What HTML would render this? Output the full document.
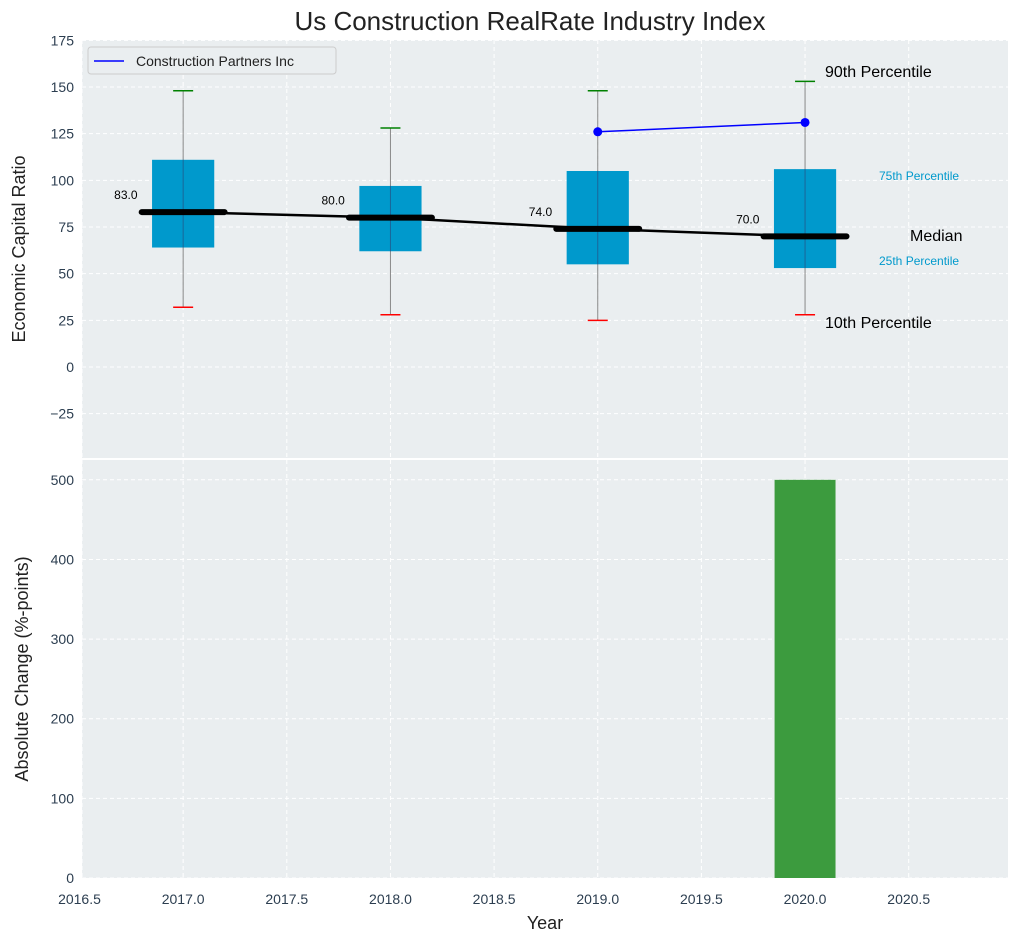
<!DOCTYPE html>
<html><head><meta charset="utf-8"><style>
body{margin:0;background:#fff;}
svg text{font-family:"Liberation Sans","DejaVu Sans",sans-serif;}
</style></head><body>
<svg id="chart" width="1019" height="942" xmlns="http://www.w3.org/2000/svg">
<rect width="1019" height="942" fill="#fff"/>
<text x="530" y="30" font-size="26" text-anchor="middle" fill="#222">Us Construction RealRate Industry Index</text>
<g id="topg"></g><g id="botg"></g>
</svg>
<script>
const years=[2017,2018,2019,2020];
const medians=[83,80,74,70];
const q1=[64,62,55,53];
const q3=[111,97,105,106];
const p10=[32,28,25,28];
const p90=[148,128,148,153];
const companyYears=[2019,2020];
const companyVals=[126,131];
const changeYears=[2020];
const changeVals=[500];
const xTicks=[2016.5,2017.0,2017.5,2018.0,2018.5,2019.0,2019.5,2020.0,2020.5];
const yTopTicks=[-25,0,25,50,75,100,125,150,175];
const yBotTicks=[0,100,200,300,400,500];

const NS="http://www.w3.org/2000/svg";
const L=82,R=1008;
const X=v=>79.5+(v-2016.5)*207.3;
const YT=v=>367-v*1.8667;
const YB=v=>878-v*0.7964;
function el(p,tag,a,name,txt){const e=document.createElementNS(NS,tag);for(const k in a)e.setAttribute(k,a[k]);


if(txt!==undefined)e.textContent=txt;p.appendChild(e);return e;}
const topG=document.getElementById('topg'),botG=document.getElementById('botg');
el(topG,'rect',{x:L,y:40,width:R-L,height:418,fill:'#eaeef0'},'top-plot-area');
el(botG,'rect',{x:L,y:460,width:R-L,height:418,fill:'#eaeef0'},'bottom-plot-area');
xTicks.forEach(t=>{
 const xx=Math.max(X(t),L);
 el(topG,'line',{x1:xx,x2:xx,y1:40,y2:458,stroke:'#fff','stroke-dasharray':'4,3','stroke-width':1},'x-grid');
 el(botG,'line',{x1:xx,x2:xx,y1:460,y2:878,stroke:'#fff','stroke-dasharray':'4,3','stroke-width':1},'x-grid');
 el(botG,'text',{x:X(t),y:904,'font-size':14,'text-anchor':'middle',fill:'#2c3e50'},'x-tick-label',t.toFixed(1));
});
yTopTicks.forEach(t=>{
 el(topG,'line',{x1:L,x2:R,y1:YT(t),y2:YT(t),stroke:'#fff','stroke-dasharray':'4,3'},'y-grid');
 el(topG,'text',{x:74,y:YT(t)+5,'font-size':14,'text-anchor':'end',fill:'#2c3e50'},'y-tick-label',t<0?'\u2212'+(-t):t);
});
yBotTicks.forEach(t=>{
 el(botG,'line',{x1:L,x2:R,y1:YB(t),y2:YB(t),stroke:'#fff','stroke-dasharray':'4,3'},'y-grid');
 el(botG,'text',{x:74,y:YB(t)+5,'font-size':14,'text-anchor':'end',fill:'#2c3e50'},'y-tick-label',t);
});
el(topG,'text',{x:25,y:249,'font-size':18,'text-anchor':'middle',fill:'#222',transform:'rotate(-90 25 249)'},'y-axis-title','Economic Capital Ratio');
el(botG,'text',{x:28,y:669,'font-size':18,'text-anchor':'middle',fill:'#222',transform:'rotate(-90 28 669)'},'y-axis-title-bottom','Absolute Change (%-points)');
el(botG,'text',{x:545,y:929,'font-size':18,'text-anchor':'middle',fill:'#222'},'x-axis-title','Year');
years.forEach((y,i)=>{
 const cx=X(y);
 el(topG,'line',{x1:cx,x2:cx,y1:YT(p10[i]),y2:YT(p90[i]),stroke:'#888','stroke-width':1},'whisker');
 el(topG,'rect',{x:X(y-0.15),y:YT(q3[i]),width:X(y+0.15)-X(y-0.15),height:YT(q1[i])-YT(q3[i]),fill:'#0099cc'},'box-'+y);
 el(topG,'line',{x1:cx,x2:cx,y1:YT(q3[i]),y2:YT(q1[i]),stroke:'#336',"stroke-opacity":0.5,'stroke-width':1},'box-center');
 el(topG,'line',{x1:cx-10,x2:cx+10,y1:YT(p90[i]),y2:YT(p90[i]),stroke:'green','stroke-width':1.5},'cap-90');
 el(topG,'line',{x1:cx-10,x2:cx+10,y1:YT(p10[i]),y2:YT(p10[i]),stroke:'red','stroke-width':1.5},'cap-10');
 el(topG,'line',{x1:X(y-0.2),x2:X(y+0.2),y1:YT(medians[i]),y2:YT(medians[i]),stroke:'#000','stroke-width':6,'stroke-linecap':'round'},'median-bar');
 el(topG,'text',{x:X(y-0.22),y:YT(medians[i])-13,'font-size':12,'text-anchor':'end',fill:'#000'},'median-label',medians[i].toFixed(1));
});
el(topG,'polyline',{points:years.map((y,i)=>X(y)+','+YT(medians[i])).join(' '),fill:'none',stroke:'#000','stroke-width':2.5},'median-line');
el(topG,'polyline',{points:companyYears.map((y,i)=>X(y)+','+YT(companyVals[i])).join(' '),fill:'none',stroke:'blue','stroke-width':1.5},'company-line');
companyYears.forEach((y,i)=>el(topG,'circle',{cx:X(y),cy:YT(companyVals[i]),r:4.5,fill:'blue'},'company-point'));
el(topG,'text',{x:825,y:77,'font-size':16,fill:'#000'},'label-90th','90th Percentile');
el(topG,'text',{x:879,y:180,'font-size':12,fill:'#0099cc'},'label-75th','75th Percentile');
el(topG,'text',{x:910,y:241,'font-size':16,fill:'#000'},'label-median','Median');
el(topG,'text',{x:879,y:265,'font-size':12,fill:'#0099cc'},'label-25th','25th Percentile');
el(topG,'text',{x:825,y:328,'font-size':16,fill:'#000'},'label-10th','10th Percentile');
const lg=el(topG,'g',{},'legend');
el(lg,'rect',{x:88,y:47,width:248,height:27,rx:3,fill:'#eaeef0',stroke:'#ccc'},'legend-box');
el(lg,'line',{x1:94,x2:124,y1:61,y2:61,stroke:'blue','stroke-width':1.5},'legend-line');
el(lg,'text',{x:136,y:66,'font-size':14,fill:'#222'},'legend-entry','Construction Partners Inc');
changeYears.forEach((y,i)=>el(botG,'rect',{x:X(y-0.147),y:YB(changeVals[i]),width:X(y+0.147)-X(y-0.147),height:YB(0)-YB(changeVals[i]),fill:'#3c9b3e'},'change-bar-'+y));
</script>
</body></html>
